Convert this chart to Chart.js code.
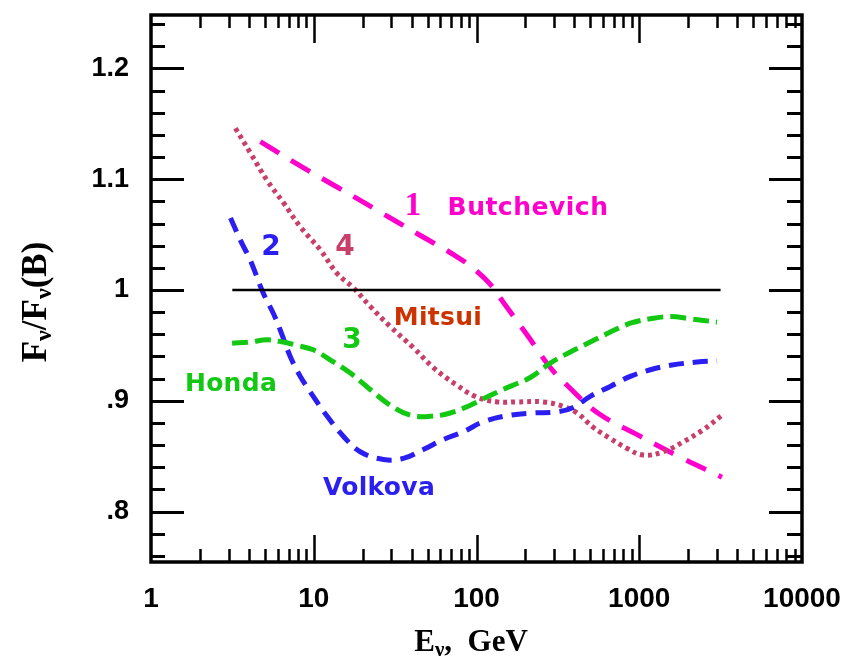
<!DOCTYPE html>
<html>
<head>
<meta charset="utf-8">
<script src="https://cdn.jsdelivr.net/npm/chart.js@4/dist/chart.umd.min.js"></script>
<style>
  html, body { margin: 0; padding: 0; background: #fff; overflow: hidden; }
  canvas { display: block; }
</style>
</head>
<body>
<canvas id="flux" width="849" height="661"></canvas>
<script>
// Neutrino flux ratio F_nu / F_nu(B) versus neutrino energy (GeV)

const xTickValues = [1, 10, 100, 1000, 10000];
const xTickLabels = ['1', '10', '100', '1000', '10000'];
const yTickValues = [0.8, 0.9, 1.0, 1.1, 1.2];
const yTickLabels = ['.8', '.9', '1', '1.1', '1.2'];

// 1 — Butchevich
const energyButchevich = [4.7, 8.26, 13.9, 23.2, 43.1, 75.9, 98.4, 121.6, 146, 208, 284, 360, 557, 984, 1734, 3223];
const ratioButchevich  = [1.134, 1.112, 1.093, 1.074, 1.051, 1.030, 1.018, 1.005, 0.989, 0.958, 0.930, 0.914, 0.889, 0.869, 0.850, 0.831];

// 2 — Volkova
const energyVolkova = [3.08, 3.54, 4.07, 4.9, 5.64, 6.22, 7.17, 8.27, 9.93, 12.1, 15.2, 19.3, 26.8, 35.5, 47.1, 62.5, 83, 110, 161, 223, 312, 393, 500, 664, 881, 1170, 1553, 2264, 3006];
const ratioVolkova  = [1.065, 1.045, 1.027, 0.997, 0.979, 0.964, 0.940, 0.922, 0.904, 0.886, 0.868, 0.854, 0.847, 0.848, 0.856, 0.865, 0.872, 0.881, 0.887, 0.889, 0.890, 0.894, 0.904, 0.913, 0.922, 0.928, 0.932, 0.935, 0.936];

// 3 — Honda
const energyHonda = [3.15, 4.07, 5.16, 6.5, 7.89, 9.93, 12.6, 16.8, 22.3, 29.5, 39.2, 52, 69, 91.6, 122, 161, 214, 284, 377, 500, 664, 881, 1170, 1553, 2061, 3006];
const ratioHonda  = [0.952, 0.953, 0.955, 0.953, 0.950, 0.946, 0.937, 0.925, 0.910, 0.896, 0.887, 0.886, 0.889, 0.896, 0.905, 0.913, 0.921, 0.934, 0.944, 0.953, 0.962, 0.970, 0.974, 0.976, 0.974, 0.971];

// 4 — Mitsui
const energyMitsui = [3.3, 4.07, 5.16, 6.5, 8.27, 11.0, 13.9, 17.5, 22.3, 29.5, 40.9, 54.3, 75.9, 98.4, 134, 177, 257, 341, 415, 522, 664, 841, 1059, 1406, 1867, 2477, 3224];
const ratioMitsui  = [1.146, 1.124, 1.099, 1.079, 1.057, 1.036, 1.015, 1.002, 0.985, 0.967, 0.948, 0.930, 0.914, 0.904, 0.899, 0.899, 0.899, 0.895, 0.889, 0.876, 0.866, 0.857, 0.851, 0.854, 0.863, 0.874, 0.887];

// Reference level (ratio = 1)
const energyUnity = [3.16, 3160];
const ratioUnity  = [1, 1];

const pts = (xs, ys) => xs.map((x, i) => ({ x, y: ys[i] }));

// Frame with inward major/minor ticks on all four sides
const framePlugin = {
  id: 'frameTicks',
  afterDraw(chart) {
    const { ctx, chartArea: a, scales: { x, y } } = chart;
    ctx.save();
    ctx.strokeStyle = '#000';
    ctx.lineCap = 'butt';
    // x ticks (log decades with 2..9 minors)
    ctx.lineWidth = 2.5;
    for (let d = 1; d < 10000; d *= 10) {
      for (let m = 1; m <= 9; m++) {
        const v = d * m;
        if (v === 1) continue;
        const px = Math.round(x.getPixelForValue(v)) + 0.5;
        const major = m === 1;
        const lb = major ? 27 : 13, lt = major ? 28 : 13;
        ctx.beginPath();
        ctx.moveTo(px, a.bottom); ctx.lineTo(px, a.bottom - lb);
        ctx.moveTo(px, a.top); ctx.lineTo(px, a.top + lt);
        ctx.stroke();
      }
    }
    // y ticks every 0.02, majors every 0.1
    ctx.lineWidth = 3;
    for (let k = 38; k <= 62; k++) {
      const v = k / 50;
      const py = Math.round(y.getPixelForValue(v)) + 0.5;
      const major = k % 5 === 0;
      const ll = major ? 33 : 14, lr = major ? 33 : 15;
      ctx.beginPath();
      ctx.moveTo(a.left, py); ctx.lineTo(a.left + ll, py);
      ctx.moveTo(a.right, py); ctx.lineTo(a.right - lr, py);
      ctx.stroke();
    }
    // frame
    ctx.lineWidth = 3.5;
    ctx.strokeRect(a.left, a.top, a.right - a.left, a.bottom - a.top);
    ctx.restore();
  }
};

// Curve annotations and axis titles
const textPlugin = {
  id: 'annotations',
  afterDraw(chart) {
    const { ctx } = chart;
    ctx.save();
    ctx.textBaseline = 'middle';
    ctx.textAlign = 'center';
    const put = (txt, cx, cy, font, color, spacing) => {
      ctx.font = font;
      ctx.fillStyle = color;
      ctx.letterSpacing = (spacing || 0) + 'px';
      ctx.fillText(txt, cx, cy);
      ctx.letterSpacing = '0px';
    };
    const label = 'bold 25px "DejaVu Sans"';
    const digit = 'bold 28px "DejaVu Sans"';
    put('1', 413, 206, 'bold 33px "Liberation Serif"', '#ff00cc');
    put('Butchevich', 528, 208, label, '#ff00cc', 0.5);
    put('2', 271, 248, digit, '#2a1ff0');
    put('4', 345, 248, digit, '#c8406a');
    put('3', 352, 341, digit, '#12c812');
    put('Mitsui', 438, 318, label, '#cc3300', 0.3);
    put('Honda', 231, 384, label, '#12c812', 0.3);
    put('Volkova', 379, 488, label, '#2a1ff0', 0.3);

    // composite titles with subscript nu
    const serif = (s) => `bold ${s}px "Liberation Serif"`;
    const drawRuns = (runs, startX, baseY) => {
      let cx = startX;
      runs.forEach(r => {
        ctx.font = serif(r.size);
        ctx.fillText(r.t, cx, baseY + (r.dy || 0));
        cx += ctx.measureText(r.t).width;
      });
    };
    const runsWidth = (runs) => runs.reduce((w, r) => { ctx.font = serif(r.size); return w + ctx.measureText(r.t).width; }, 0);

    ctx.fillStyle = '#000';
    ctx.textAlign = 'left';
    ctx.textBaseline = 'alphabetic';
    const xTitle = [{ t: 'E', size: 31 }, { t: '\u03bd', size: 21, dy: 5 }, { t: ',  GeV', size: 31 }];
    drawRuns(xTitle, 471 - runsWidth(xTitle) / 2, 651);

    const yTitle = [{ t: 'F', size: 35 }, { t: '\u03bd', size: 24, dy: 5 }, { t: '/F', size: 35 }, { t: '\u03bd', size: 24, dy: 5 }, { t: '(B)', size: 35 }];
    ctx.translate(46, 302);
    ctx.rotate(-Math.PI / 2);
    drawRuns(yTitle, -runsWidth(yTitle) / 2, 0);
    ctx.restore();
  }
};

const line = (data, color, width, dash) => ({
  data, borderColor: color, borderWidth: width, borderDash: dash,
  pointRadius: 0, fill: false, tension: 0.4, borderCapStyle: 'butt'
});

new Chart(document.getElementById('flux'), {
  type: 'line',
  data: {
    datasets: [
      line(pts(energyUnity, ratioUnity), '#000', 2.5, []),
      line(pts(energyHonda, ratioHonda), '#12c812', 5, [16, 7]),
      line(pts(energyVolkova, ratioVolkova), '#2a1ff0', 5, [15, 9]),
      line(pts(energyMitsui, ratioMitsui), '#c8406a', 5, [4, 4]),
      line(pts(energyButchevich, ratioButchevich), '#ff00cc', 5, [22, 14])
    ]
  },
  options: {
    responsive: false,
    animation: false,
    devicePixelRatio: 1,
    layout: { padding: { top: 15, right: 47, left: 0, bottom: 0 } },
    plugins: { legend: { display: false }, tooltip: { enabled: false } },
    scales: {
      x: {
        type: 'logarithmic', min: 1, max: 10000,
        grid: { display: false, drawTicks: false, tickLength: 0 },
        border: { display: false },
        afterBuildTicks: (s) => { s.ticks = xTickValues.map(v => ({ value: v, major: true })); },
        afterFit: (s) => { s.height = 99; s.paddingLeft = 0; s.paddingRight = 0; },
        ticks: {
          autoSkip: false, maxRotation: 0, padding: 20, color: '#000',
          font: { family: '"Liberation Sans"', weight: 'bold', size: 28 },
          callback: (v) => xTickLabels[xTickValues.indexOf(v)] ?? ''
        }
      },
      y: {
        type: 'linear', min: 0.7545, max: 1.2482,
        grid: { display: false, drawTicks: false, tickLength: 0 },
        border: { display: false },
        afterBuildTicks: (s) => { s.ticks = yTickValues.map(v => ({ value: v })); },
        afterFit: (s) => { s.width = 151; s.paddingTop = 0; s.paddingBottom = 0; },
        ticks: {
          autoSkip: false, padding: 22, color: '#000',
          font: { family: '"Liberation Sans"', weight: 'bold', size: 27 },
          callback: (v) => {
            const i = yTickValues.findIndex(t => Math.abs(t - v) < 1e-9);
            return i >= 0 ? yTickLabels[i] : '';
          }
        }
      }
    }
  },
  plugins: [framePlugin, textPlugin]
});
</script>
</body>
</html>
